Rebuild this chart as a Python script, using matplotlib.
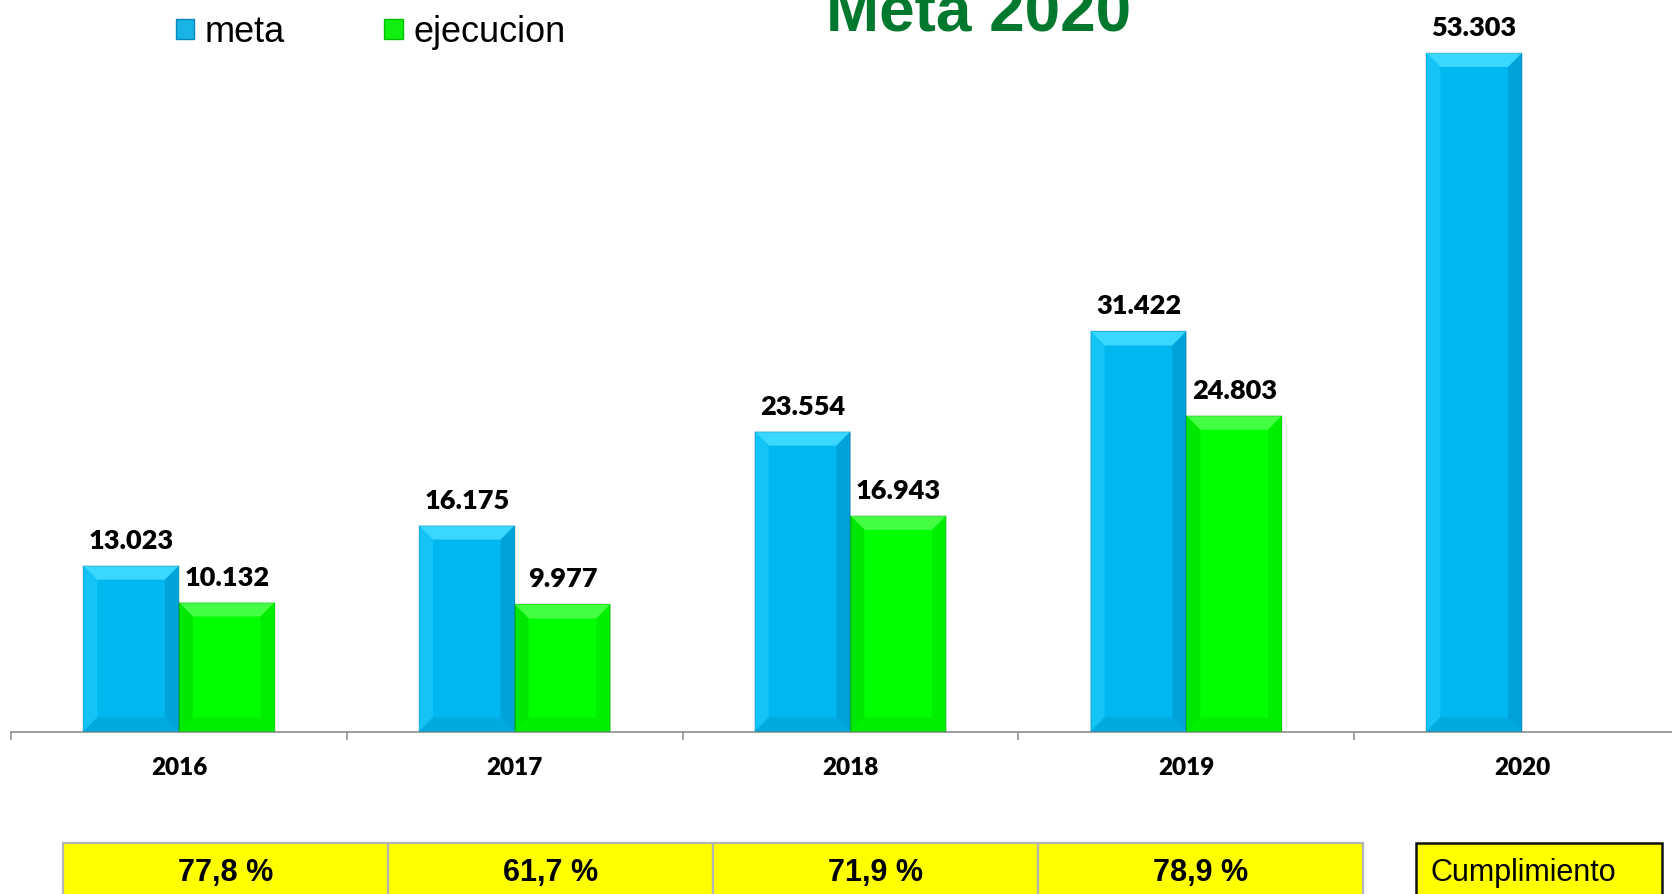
import matplotlib
matplotlib.use("Agg")
import matplotlib.pyplot as plt
from matplotlib.patches import Patch, Polygon
import numpy as np

# ---- data ----
years = ["2016", "2017", "2018", "2019", "2020"]
meta = [13023, 16175, 23554, 31422, 53303]
ejecucion = [10132, 9977, 16943, 24803, None]
meta_labels = ["13.023", "16.175", "23.554", "31.422", "53.303"]
ejec_labels = ["10.132", "9.977", "16.943", "24.803", None]
cumplimiento = ["77,8 %", "61,7 %", "71,9 %", "78,9 %"]
title = "Meta 2020"

W, H = 1672, 894
DPI = 100
fig = plt.figure(figsize=(W / DPI, H / DPI), dpi=DPI, facecolor="white")

def px(x0, y0_top, w, h):
    """figure-fraction rect from pixel coords (top-left origin)"""
    return [x0 / W, (H - y0_top - h) / H, w / W, h / H]

base_y = 731.5
ax = fig.add_axes(px(11, 0, 1679, base_y))
ax.set_xlim(-0.5, 4.5)
ax.set_ylim(0, base_y / 0.01273)

BLUE = "#00B8EF"
GREEN = "#00FF00"
bw = 0.285
x = np.arange(len(years))
meta_bars = ax.bar(x - bw / 2, meta, width=bw, color=BLUE, edgecolor="none", zorder=2)
ej_vals = [v if v is not None else 0 for v in ejecucion]
ej_bars = ax.bar(x + bw / 2, ej_vals, width=bw, color=GREEN, edgecolor="none", zorder=2)

# bevel effect derived from bar patches
def bevel(bars, top_c, left_c, right_c, bot_c, d=14):
    inv = ax.transData.inverted()
    for r in bars:
        if r.get_height() <= 0:
            continue
        (x0, y0) = ax.transData.transform((r.get_x(), r.get_y()))
        (x1, y1) = ax.transData.transform((r.get_x() + r.get_width(), r.get_y() + r.get_height()))
        polys = [
            ([(x0, y1), (x1, y1), (x1 - d, y1 - d), (x0 + d, y1 - d)], top_c),
            ([(x0, y0), (x0, y1), (x0 + d, y1 - d), (x0 + d, y0 + d)], left_c),
            ([(x1, y0), (x1, y1), (x1 - d, y1 - d), (x1 - d, y0 + d)], right_c),
            ([(x0, y0), (x1, y0), (x1 - d, y0 + d), (x0 + d, y0 + d)], bot_c),
        ]
        for pts, c in polys:
            ax.add_patch(Polygon(inv.transform(pts), closed=True, facecolor=c,
                                 edgecolor="none", zorder=3))
        ax.add_patch(Polygon(inv.transform([(x0, y0), (x0, y1), (x1, y1), (x1, y0)]),
                             closed=True, facecolor="none", edgecolor="#0a0a0a",
                             alpha=0.10, linewidth=1.2, zorder=4))

bevel(meta_bars, "#3AD8FF", "#14C4F6", "#00A2DA", "#00AADF")
bevel(ej_bars, "#45FF45", "#00E800", "#00EE00", "#00EE00")

# spines and ticks
for s in ["top", "right", "left"]:
    ax.spines[s].set_visible(False)
ax.spines["bottom"].set_color("#8C8C8C")
ax.spines["bottom"].set_linewidth(1.2)
ax.set_yticks([])
ax.set_xticks(np.arange(-0.5, 5.0, 1.0))
ax.set_xticklabels([])
ax.tick_params(axis="x", which="major", length=5.8, width=1.1, color="#8C8C8C", direction="out")
ax.patch.set_alpha(0)

pt_per_px = 72 / DPI
for i, lab in enumerate(years):
    ax.annotate(lab, xy=(i, 0), xycoords=("data", "axes fraction"),
                xytext=(0, -43.5 * pt_per_px), textcoords="offset points",
                ha="center", va="baseline", fontsize=17.5, fontweight="heavy",
                family="Lato", color="black", annotation_clip=False)

# value labels
for r, lab in zip(meta_bars, meta_labels):
    ax.annotate(lab, xy=(r.get_x() + r.get_width() / 2, r.get_height()),
                xytext=(0, 17 * pt_per_px), textcoords="offset points",
                ha="center", va="baseline", fontsize=19.5, fontweight="heavy",
                family="Lato", color="black", annotation_clip=False)
for r, lab in zip(ej_bars, ejec_labels):
    if lab is None:
        continue
    ax.annotate(lab, xy=(r.get_x() + r.get_width() / 2, r.get_height()),
                xytext=(0, 17 * pt_per_px), textcoords="offset points",
                ha="center", va="baseline", fontsize=19.5, fontweight="heavy",
                family="Lato", color="black", annotation_clip=False)

# legend
handles = [Patch(facecolor="#18B4E8", edgecolor="#0A86B8", label="meta"),
           Patch(facecolor="#10F010", edgecolor="#00C000", label="ejecucion")]
leg = fig.legend(handles=handles, loc="upper left", bbox_to_anchor=(176 / W, 1 - 15 / H),
                 ncol=2, frameon=False, handlelength=0.5, handleheight=0.5,
                 handletextpad=0.3, columnspacing=2.75, borderpad=0, borderaxespad=0,
                 prop={"family": "Liberation Sans", "size": 26})

# title
fig.text(979 / W, 1 - 32 / H, title, ha="center", va="baseline", fontsize=46,
         fontweight="bold", family="Liberation Sans", color="#00782D")

# percentage table
tax = fig.add_axes(px(63, 843, 1300, 60))
tax.set_axis_off()
tbl = tax.table(cellText=[cumplimiento], cellLoc="center", bbox=[0, 0, 1, 1])
tbl.auto_set_font_size(False)
for (r, c), cell in tbl.get_celld().items():
    cell.set_facecolor("#FFFF00")
    cell.set_edgecolor("#B4B4B4")
    cell.set_linewidth(1.6)
    cell.get_text().set_fontsize(22)
    cell.get_text().set_fontweight("bold")
    cell.get_text().set_fontfamily("Liberation Sans")

cax = fig.add_axes(px(1416, 843, 246, 60))
cax.set_axis_off()
ctbl = cax.table(cellText=[["Cumplimiento"]], cellLoc="left", bbox=[0, 0, 1, 1])
ctbl.auto_set_font_size(False)
for (r, c), cell in ctbl.get_celld().items():
    cell.set_facecolor("#FFFF00")
    cell.set_edgecolor("#111111")
    cell.set_linewidth(1.8)
    cell.PAD = 0.06
    cell.get_text().set_fontsize(22)
    cell.get_text().set_fontfamily("Liberation Sans")

fig.savefig("out.png", dpi=DPI, facecolor="white")
